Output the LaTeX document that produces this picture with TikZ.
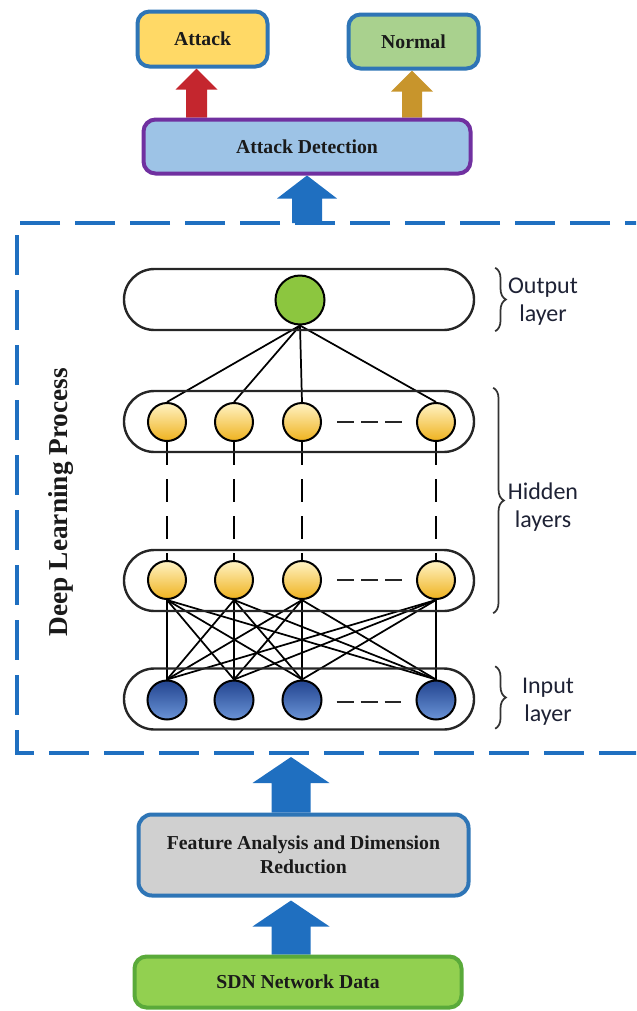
\documentclass[tikz,border=0pt]{standalone}
\usepackage{fontspec}
\setmainfont{Liberation Serif}
\newfontfamily\lblfont{Carlito}
\usetikzlibrary{calc,decorations.pathreplacing,backgrounds}

\definecolor{frameblue}{HTML}{1F6FC0}
\definecolor{boxblue}{HTML}{2E75B6}
\definecolor{attackfill}{HTML}{FFD966}
\definecolor{normalfill}{HTML}{A9D18E}
\definecolor{detfill}{HTML}{9DC3E6}
\definecolor{detline}{HTML}{7030A0}
\definecolor{featfill}{HTML}{D0D0D0}
\definecolor{sdnfill}{HTML}{92D050}
\definecolor{sdnline}{HTML}{5AAA3A}
\definecolor{redarrow}{HTML}{C4262E}
\definecolor{goldarrow}{HTML}{C8952C}
\definecolor{outgreen}{HTML}{8CC63F}
\definecolor{labeltext}{HTML}{1E2235}
\definecolor{inktext}{HTML}{1A1A1A}
\definecolor{goldtop}{HTML}{FFF3C4}
\definecolor{goldmid}{HTML}{F9CF45}
\definecolor{goldbot}{HTML}{EFB21E}
\definecolor{bluetop}{HTML}{22448F}
\definecolor{bluemid}{HTML}{2F58A8}
\definecolor{bluebot}{HTML}{6A93D6}

% one picture unit = 0.75pt
\newcommand\pxu{0.75pt}
% block arrow from #1 (tail) up to #2 (tip): half shaft, half head, head length, colour
\newcommand\blockarrow[6]{%
  \fill[#6] let \p1=#1, \p2=#2 in
    (\x1-#3*\pxu,\y1) -- (\x1-#3*\pxu,\y2-#5*\pxu) -- (\x1-#4*\pxu,\y2-#5*\pxu)
    -- (\x1,\y2) -- (\x1+#4*\pxu,\y2-#5*\pxu) -- (\x1+#3*\pxu,\y2-#5*\pxu)
    -- (\x1+#3*\pxu,\y1) -- cycle;}

\begin{document}
\begin{tikzpicture}[x=0.75pt,y=-0.75pt,
  box/.style={rounded corners=9pt, line width=3pt, draw=boxblue, text=inktext,
    font=\bfseries\fontsize{14.8}{18}\selectfont, align=center, inner sep=0pt},
  pill/.style={draw=black!85, line width=1.8pt, rounded corners=22.8pt,
    minimum width=350*\pxu, minimum height=61*\pxu, inner sep=0pt},
  neuron/.style={circle, draw=black, line width=1.5pt, minimum size=38*\pxu, inner sep=0pt},
  hiddenN/.style={neuron, top color=goldtop, middle color=goldmid, bottom color=goldbot},
  inputN/.style={neuron, minimum size=39*\pxu, top color=bluetop, middle color=bluemid, bottom color=bluebot},
  link/.style={line width=1.3pt, black},
  vdash/.style={line width=2.2pt, black, dash pattern=on 17.25pt off 10.5pt},
  hdash/.style={line width=2pt, black!85, dash pattern=on 12.75pt off 5.25pt},
  brace/.style={decorate, decoration={brace, amplitude=8pt}, line width=1.3pt, draw=black!80},
  layerlabel/.style={font=\lblfont\fontsize{18}{21}\selectfont, text=labeltext, align=center, inner sep=0pt},
  dlframe/.style={draw=frameblue, line width=3.5pt, dash pattern=on 30pt off 11.25pt, dash phase=3.75pt}]

\useasboundingbox (0,0) rectangle (636,1011);
\clip (0,0) rectangle (636,1011);

% top boxes
\node[box, fill=attackfill, minimum width=130*\pxu, minimum height=55*\pxu] (attack) at (202.5,39) {Attack};
\node[box, fill=normalfill, minimum width=130*\pxu, minimum height=54*\pxu] (normal) at (413.5,41.5) {Normal};
\node[box, fill=detfill, draw=detline, minimum width=327*\pxu, minimum height=54*\pxu] (det) at (307,146.5) {Attack Detection};

% bottom boxes
\node[box, fill=featfill, rounded corners=10pt, minimum width=330*\pxu, minimum height=81*\pxu] (fa) at (303.5,855) {Feature Analysis and Dimension\\Reduction};
\node[box, fill=sdnfill, draw=sdnline, minimum width=327*\pxu, minimum height=51*\pxu] (sdn) at (298,982) {SDN Network Data};

% deep learning frame
\node[minimum width=643*\pxu, minimum height=530*\pxu, inner sep=0pt, outer sep=0pt] (dlp) at (338.5,488) {};
\draw[dlframe] (dlp.north east) -- (dlp.north west) -- (dlp.south west) -- (dlp.south east);
\node[rotate=90, text=inktext, font=\bfseries\fontsize{20.5}{24}\selectfont] (dlpTxt) at (61,502) {Deep Learning Process};

% layer outlines
\node[pill] (outL) at (299,299.5) {};
\node[pill] (h1L) at (299,421.5) {};
\node[pill] (h2L) at (299,580.5) {};
\node[pill] (inL) at (299,699) {};

% neurons
\node[neuron, fill=outgreen, minimum size=49*\pxu] (o) at (300,300) {};
\foreach \n/\x in {a/167,b/234,c/302,d/436}{
  \node[hiddenN] (h1\n) at (\x,422) {};
  \node[hiddenN] (h2\n) at (\x,580) {};
  \node[inputN] (in\n) at (\x,700) {};
}

\begin{pgfonlayer}{background}
  \foreach \n in {a,b,c,d}{
    \draw[link] (o.south) -- (h1\n.north);
    \draw[vdash] (h1\n.south) -- (h2\n.north);
    \foreach \m in {a,b,c,d}
      \draw[link] (h2\m.south) -- (in\n.north);
  }
  % block arrows
  \blockarrow{($(attack.south |- det.north)+(-6,0)$)}{($(attack.south)+(-6,0)$)}{10.5}{21}{21}{redarrow}
  \blockarrow{($(normal.south |- det.north)+(-1.5,0)$)}{($(normal.south)+(-1.5,0)$)}{10}{21}{21}{goldarrow}
  \blockarrow{(det.south |- dlp.north)}{(det.south)}{15}{30}{23}{frameblue}
  \blockarrow{($(fa.north)+(-12.5,0)$)}{($(fa.north |- dlp.south)+(-12.5,4)$)}{19.5}{38.5}{26}{frameblue}
  \blockarrow{($(sdn.north)+(-7,0)$)}{($(fa.south)+(-12.5,3)$)}{19.5}{38.5}{26}{frameblue}
\end{pgfonlayer}

% ellipsis dashes inside each layer
\draw[hdash] ($(h1c.east)+(15,0)$) -- ($(h1d.west)+(-14,0)$);
\draw[hdash] ($(h2c.east)+(15,0)$) -- ($(h2d.west)+(-14,0)$);
\draw[hdash] ($(inc.east)+(14,2)$) -- ($(ind.west)+(-15,2)$);

% layer braces and labels
\draw[brace] ($(outL.north east)+(20,0)$) -- ($(outL.south east)+(20,0)$);
\draw[brace] ($(h1L.north east)+(18,-2)$) -- ($(h2L.south east)+(18,1)$);
\draw[brace] ($(inL.north east)+(20,-1)$) -- ($(inL.south east)+(20,-2)$);
\node[layerlabel] (outTxt) at (543,302) {Output\\layer};
\node[layerlabel] (hidTxt) at (543,507) {Hidden\\layers};
\node[layerlabel] (inTxt) at (548,702) {Input\\layer};
\end{tikzpicture}
\end{document}
